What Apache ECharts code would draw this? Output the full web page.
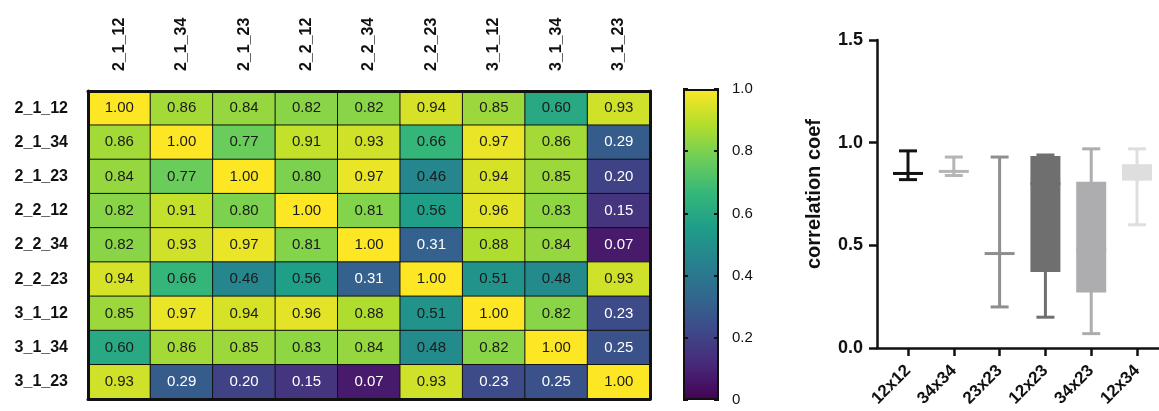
<!DOCTYPE html>
<html>
<head>
<meta charset="utf-8">
<script src="https://cdn.jsdelivr.net/npm/echarts@6/dist/echarts.min.js"></script>
<style>
  html, body { margin: 0; padding: 0; background: #fff; }
  #chart { width: 1159px; height: 411px; }
</style>
</head>
<body>
<div id="chart"></div>
<script>
// Sample labels (rows and columns of the correlation matrix)
const sampleLabels = ['2_1_12', '2_1_34', '2_1_23', '2_2_12', '2_2_34', '2_2_23', '3_1_12', '3_1_34', '3_1_23'];

// Pairwise correlation coefficients, row by row
const corrMatrix = [
  [1.00, 0.86, 0.84, 0.82, 0.82, 0.94, 0.85, 0.60, 0.93],
  [0.86, 1.00, 0.77, 0.91, 0.93, 0.66, 0.97, 0.86, 0.29],
  [0.84, 0.77, 1.00, 0.80, 0.97, 0.46, 0.94, 0.85, 0.20],
  [0.82, 0.91, 0.80, 1.00, 0.81, 0.56, 0.96, 0.83, 0.15],
  [0.82, 0.93, 0.97, 0.81, 1.00, 0.31, 0.88, 0.84, 0.07],
  [0.94, 0.66, 0.46, 0.56, 0.31, 1.00, 0.51, 0.48, 0.93],
  [0.85, 0.97, 0.94, 0.96, 0.88, 0.51, 1.00, 0.82, 0.23],
  [0.60, 0.86, 0.85, 0.83, 0.84, 0.48, 0.82, 1.00, 0.25],
  [0.93, 0.29, 0.20, 0.15, 0.07, 0.93, 0.23, 0.25, 1.00]
];

// Colour scale ticks
const colorbarTicks = [0, 0.2, 0.4, 0.6, 0.8, 1.0];

// Box-and-whisker summary per comparison group
const groupNames = ['12x12', '34x34', '23x23', '12x23', '34x23', '12x34'];
const groupMin    = [0.82, 0.84, 0.20, 0.15, 0.07, 0.60];
const groupQ1     = [0.85, 0.86, 0.46, 0.37, 0.27, 0.815];
const groupMedian = [0.85, 0.86, 0.46, 0.80, 0.48, 0.84];
const groupQ3     = [0.85, 0.86, 0.46, 0.935, 0.81, 0.895];
const groupMax    = [0.96, 0.93, 0.93, 0.94, 0.97, 0.97];
const groupColors = ['#121212', '#b5b5b5', '#8f8f8f', '#6f6f6f', '#adadb0', '#dedede'];

const viridis = ['#440154', '#482878', '#3e4989', '#31688e', '#26828e', '#1f9e89', '#35b779', '#6ece58', '#b5de2b', '#fde725'];

const FONT = "'Liberation Sans', Arial, Helvetica, sans-serif";
const INK = '#111';

const heatData = [];
corrMatrix.forEach((row, r) => {
  row.forEach((v, c) => {
    heatData.push({
      value: [c, r, v],
      label: { color: v < 0.4 ? '#ffffff' : '#1a1a1a' }
    });
  });
});

const chart = echarts.init(document.getElementById('chart'), null, { renderer: 'canvas' });

const gradientStops = viridis.map((c, i) => ({ offset: i / (viridis.length - 1), color: c }));

const option = {
  backgroundColor: '#ffffff',
  textStyle: { fontFamily: FONT },
  animation: false,
  grid: [
    { left: 88, top: 91, width: 562, height: 308 },          // matrix
    { left: 683, top: 89, width: 36, height: 311 },          // colour bar
    { left: 877, top: 40, right: 0, height: 308 }            // box plot
  ],
  visualMap: {
    show: false,
    type: 'continuous',
    min: 0,
    max: 1,
    seriesIndex: 0,
    inRange: { color: viridis }
  },
  xAxis: [
    {
      gridIndex: 0, type: 'category', data: sampleLabels, position: 'top',
      axisLine: { show: true, onZero: false, lineStyle: { color: INK, width: 3 } },
      axisTick: { show: false },
      axisLabel: { rotate: -90, margin: 20, fontSize: 16, fontWeight: 'bold', color: INK, fontFamily: FONT },
      splitLine: { show: false },
      z: 10
    },
    {
      gridIndex: 0, type: 'category', data: sampleLabels, position: 'bottom',
      axisLine: { show: true, onZero: false, lineStyle: { color: INK, width: 3 } },
      axisTick: { show: false }, axisLabel: { show: false },
      z: 10
    },
    {
      gridIndex: 1, type: 'category', data: ['scale'], show: false
    },
    {
      gridIndex: 2, type: 'value', min: -0.677, max: 5.48,
      axisLine: { show: true, onZero: false, lineStyle: { color: INK, width: 2.5 } },
      axisTick: { show: true, length: 8, lineStyle: { color: INK, width: 2.5 }, customValues: [0, 1, 2, 3, 4, 5] },
      axisLabel: {
        rotate: 45, margin: 20, fontSize: 17, fontWeight: 'bold', color: INK, fontFamily: FONT,
        customValues: [0, 1, 2, 3, 4, 5],
        formatter: v => groupNames[Math.round(v)] || ''
      },
      splitLine: { show: false }
    }
  ],
  yAxis: [
    {
      gridIndex: 0, type: 'category', data: sampleLabels, inverse: true,
      axisLine: { show: true, onZero: false, lineStyle: { color: INK, width: 3 } },
      axisTick: { show: false },
      axisLabel: { margin: 20, fontSize: 16, fontWeight: 'bold', color: INK, fontFamily: FONT },
      z: 10
    },
    {
      gridIndex: 0, type: 'category', data: sampleLabels, inverse: true, position: 'right',
      axisLine: { show: true, onZero: false, lineStyle: { color: INK, width: 3 } },
      axisTick: { show: false }, axisLabel: { show: false },
      z: 10
    },
    {
      gridIndex: 1, type: 'value', min: 0, max: 1, interval: 0.2, position: 'right',
      axisLine: { show: false },
      axisTick: { show: true, inside: true, length: 5, lineStyle: { color: INK, width: 2 }, customValues: colorbarTicks },
      axisLabel: {
        margin: 13, fontSize: 15, color: INK, fontFamily: FONT,
        customValues: colorbarTicks,
        formatter: v => (v === 0 ? '0' : v.toFixed(1))
      },
      splitLine: { show: false },
      z: 10
    },
    {
      gridIndex: 1, type: 'value', min: 0, max: 1, interval: 0.2, position: 'left',
      axisLine: { show: false },
      axisTick: { show: true, inside: true, length: 5, lineStyle: { color: INK, width: 2 }, customValues: colorbarTicks },
      axisLabel: { show: false },
      splitLine: { show: false },
      z: 10
    },
    {
      gridIndex: 2, type: 'value', min: 0, max: 1.5, interval: 0.5,
      name: 'correlation coef', nameLocation: 'middle', nameGap: 53,
      nameTextStyle: { fontSize: 20, fontWeight: 'bold', color: INK, fontFamily: FONT },
      axisLine: { show: true, onZero: false, lineStyle: { color: INK, width: 2.5 } },
      axisTick: { show: true, length: 8, lineStyle: { color: INK, width: 2.5 } },
      axisLabel: { margin: 14, fontSize: 18, fontWeight: 'bold', color: INK, fontFamily: FONT, formatter: v => v.toFixed(1) },
      splitLine: { show: false }
    }
  ],
  series: [
    {
      type: 'heatmap',
      xAxisIndex: 0, yAxisIndex: 0,
      data: heatData,
      label: {
        show: true, fontSize: 15, fontFamily: FONT,
        formatter: p => p.value[2].toFixed(2)
      },
      itemStyle: { borderColor: '#111', borderWidth: 1 },
      emphasis: { disabled: true }
    },
    {
      type: 'bar',
      xAxisIndex: 2, yAxisIndex: 2,
      data: [colorbarTicks[colorbarTicks.length - 1]],
      barWidth: '100%',
      silent: true,
      itemStyle: {
        color: new echarts.graphic.LinearGradient(0, 1, 0, 0, gradientStops),
        borderColor: '#111', borderWidth: 2
      }
    },
    {
      type: 'custom',
      xAxisIndex: 3, yAxisIndex: 4,
      data: groupNames.map((n, i) => [i, groupMin[i], groupQ1[i], groupMedian[i], groupQ3[i], groupMax[i]]),
      renderItem: (params, api) => {
        const i = api.value(0);
        const color = groupColors[params.dataIndex];
        const pMin = api.coord([i, api.value(1)]);
        const pQ1 = api.coord([i, api.value(2)]);
        const pMed = api.coord([i, api.value(3)]);
        const pQ3 = api.coord([i, api.value(4)]);
        const pMax = api.coord([i, api.value(5)]);
        const x = pMin[0];
        const capHalf = 9, boxHalf = 15;
        const stroke = { stroke: color, lineWidth: 3, fill: null };
        const children = [
          { type: 'line', shape: { x1: x, y1: pMax[1], x2: x, y2: pMin[1] }, style: stroke },
          { type: 'line', shape: { x1: x - capHalf, y1: pMax[1], x2: x + capHalf, y2: pMax[1] }, style: stroke },
          { type: 'line', shape: { x1: x - capHalf, y1: pMin[1], x2: x + capHalf, y2: pMin[1] }, style: stroke },
          { type: 'rect', shape: { x: x - boxHalf, y: pQ3[1], width: boxHalf * 2, height: pQ1[1] - pQ3[1] }, style: { fill: color } },
          { type: 'line', shape: { x1: x - boxHalf, y1: pMed[1], x2: x + boxHalf, y2: pMed[1] }, style: stroke }
        ];
        return { type: 'group', children };
      }
    }
  ]
};

chart.setOption(option);
</script>
</body>
</html>
